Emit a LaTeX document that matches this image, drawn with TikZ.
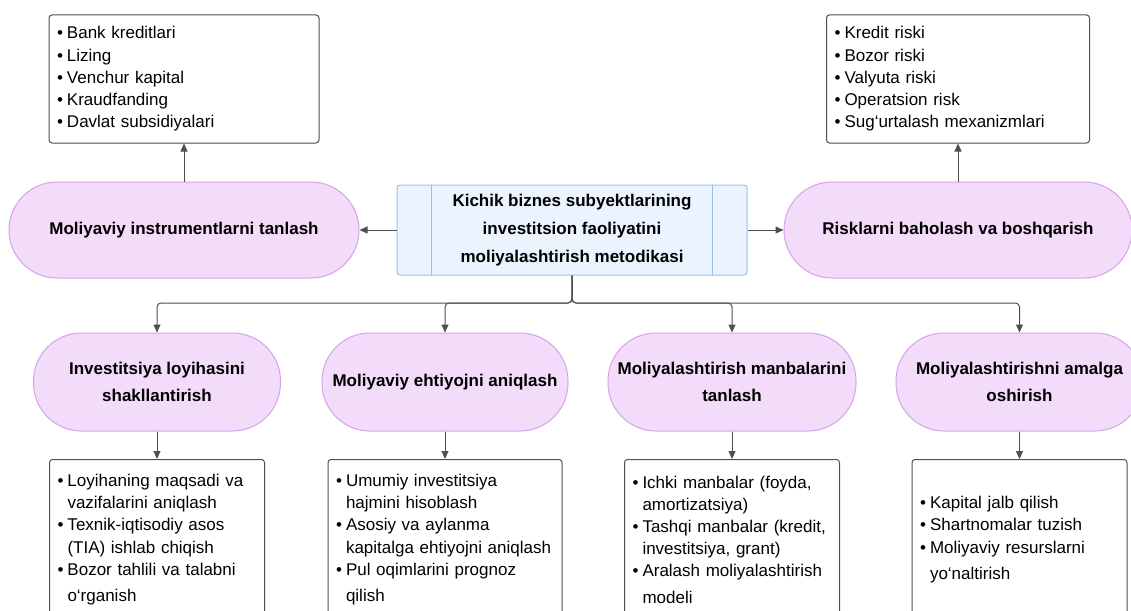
\documentclass[tikz,border=0pt]{standalone}
\usepackage{fontspec}
\setmainfont{Liberation Sans}
\usepackage{xcolor}
\usetikzlibrary{arrows.meta}
\definecolor{pillfill}{HTML}{F3DBFA}
\definecolor{pillline}{HTML}{D8A2EA}
\definecolor{titlefill}{HTML}{EBF4FE}
\definecolor{titleline}{HTML}{94C1F2}
\definecolor{boxline}{HTML}{505050}
\definecolor{linkgray}{HTML}{495057}
\tikzset{%
  pill/.style={%
    draw=pillline, fill=pillfill, line width=1pt,
    rounded corners=48pt, minimum height=96pt, align=center,
    font=\fontsize{17}{27}\selectfont\bfseries
  },
  listbox/.style={%
    draw=boxline, fill=white, line width=1pt,
    rounded corners=3pt, align=left, inner xsep=8pt,
    font=\fontsize{17}{22.2}\selectfont
  },
  link/.style={%
    -{Triangle[length=8pt,width=7pt]},
    draw=linkgray, line width=1pt
  }
}
\newcommand{\itm}{\makebox[10pt][l]{\textbullet}}
\newcommand{\ind}{\hspace*{10pt}}

\begin{document}
\begin{tikzpicture}[x=1pt,y=-1pt]
    \useasboundingbox (0,0) rectangle (1131,610);

    % centre
    \node[draw=titleline, fill=titlefill, line width=1pt, rounded corners=3pt,
      minimum width=350pt, minimum height=90pt, align=center,
      font=\fontsize{17}{28}\selectfont\bfseries] (title) at (572,230)
      {Kichik biznes subyektlarining\\ investitsion faoliyatini\\ moliyalashtirish metodikasi};
    \draw[draw=titleline, line width=1pt]
      ([xshift=35pt]title.north west) -- ([xshift=35pt]title.south west)
      ([xshift=-35pt]title.north east) -- ([xshift=-35pt]title.south east);

    % upper row
    \node[pill, minimum width=350pt] (instr) at (184,230) {Moliyaviy instrumentlarni tanlash};
    \node[pill, minimum width=348pt] (risk) at (958,230) {Risklarni baholash va boshqarish};

    \node[listbox, minimum width=270pt, minimum height=128pt, text width=254pt] (instrlist) at (184,79)
      {\itm Bank kreditlari\\ \itm Lizing\\ \itm Venchur kapital\\ \itm Kraudfanding\\ \itm Davlat subsidiyalari};
    \node[listbox, minimum width=263pt, minimum height=128pt, text width=247pt] (risklist) at (958,79)
      {\itm Kredit riski\\ \itm Bozor riski\\ \itm Valyuta riski\\ \itm Operatsion risk\\ \itm Sug‘urtalash mexanizmlari};

    \draw[link] (title.west) -- (instr.east);
    \draw[link] (title.east) -- (risk.west);
    \draw[link] (instr.north) -- (instrlist.south);
    \draw[link] (risk.north) -- (risklist.south);

    % lower row
    \node[pill, minimum width=247pt, minimum height=98pt] (proj) at (157,382) {Investitsiya loyihasini\\ shakllantirish};
    \node[pill, minimum width=246pt, minimum height=98pt] (need) at (445,382) {Moliyaviy ehtiyojni aniqlash};
    \node[pill, minimum width=248pt, minimum height=98pt] (source) at (732,382) {Moliyalashtirish manbalarini\\ tanlash};
    \node[pill, minimum width=247pt, minimum height=98pt] (exec) at (1019.5,382) {Moliyalashtirishni amalga\\ oshirish};

    \node[listbox, anchor=north, minimum width=215pt, minimum height=160pt, text width=199pt] (projlist) at (157,459)
      {\itm Loyihaning maqsadi va\\
       \ind vazifalarini aniqlash\\
       \itm Texnik-iqtisodiy asos\\
       \ind (TIA) ishlab chiqish\\
       \itm Bozor tahlili va talabni\\[4pt]
       \ind o‘rganish};
    \node[listbox, anchor=north, minimum width=234pt, minimum height=160pt, text width=218pt] (needlist) at (445,459)
      {\itm Umumiy investitsiya\\
       \ind hajmini hisoblash\\
       \itm Asosiy va aylanma\\
       \ind kapitalga ehtiyojni aniqlash\\
       \itm Pul oqimlarini prognoz\\[4pt]
       \ind qilish};
    \node[listbox, anchor=north, minimum width=215pt, minimum height=160pt, text width=199pt] (sourcelist) at (732,459)
      {\itm Ichki manbalar (foyda,\\
       \ind amortizatsiya)\\
       \itm Tashqi manbalar (kredit,\\
       \ind investitsiya, grant)\\
       \itm Aralash moliyalashtirish\\[4pt]
       \ind modeli};
    \node[listbox, anchor=north, minimum width=215pt, minimum height=160pt, text width=199pt] (execlist) at (1019.5,459)
      {\itm Kapital jalb qilish\\
       \itm Shartnomalar tuzish\\
       \itm Moliyaviy resurslarni\\[4pt]
       \ind yo‘naltirish};

    \coordinate (split) at (572,303);
    \draw[link, rounded corners=4pt] (title.south) -- (split) -| (proj.north);
    \draw[link, rounded corners=4pt] (title.south) -- (split) -| (need.north);
    \draw[link, rounded corners=4pt] (title.south) -- (split) -| (source.north);
    \draw[link, rounded corners=4pt] (title.south) -- (split) -| (exec.north);

    \draw[link] (proj.south) -- (projlist.north);
    \draw[link] (need.south) -- (needlist.north);
    \draw[link] (source.south) -- (sourcelist.north);
    \draw[link] (exec.south) -- (execlist.north);
\end{tikzpicture}
\end{document}
